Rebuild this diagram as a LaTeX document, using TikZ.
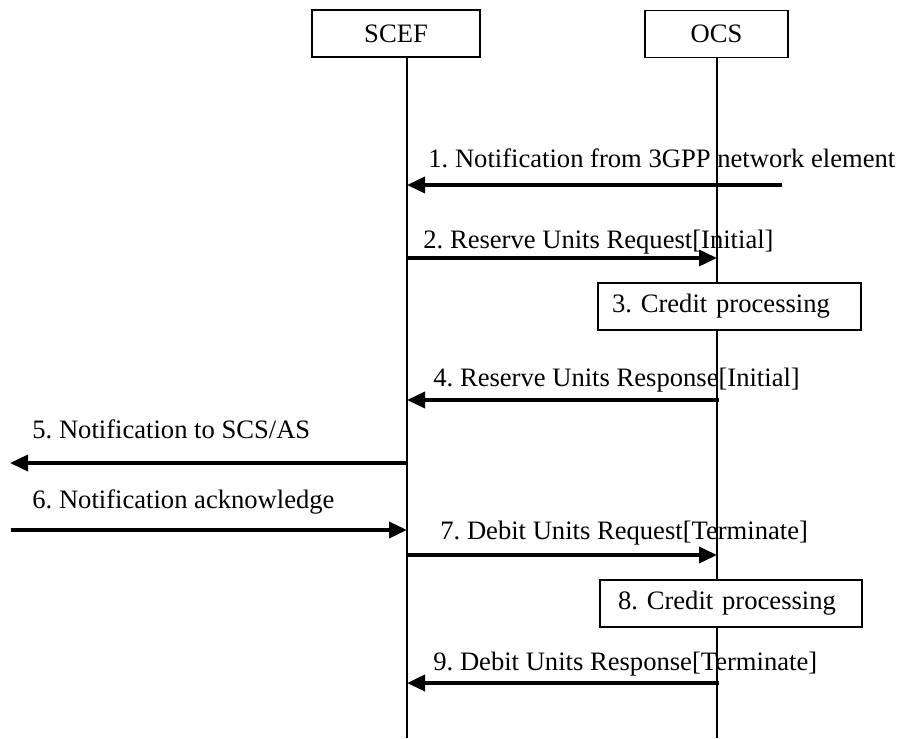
\documentclass[tikz,border=0pt]{standalone}
\usepackage{fontspec}
\setmainfont{Liberation Serif}
\usepackage{tikz}
\usetikzlibrary{arrows.meta}
\frenchspacing

\begin{document}
\begin{tikzpicture}[x=0.5pt,y=-0.5pt,
		every node/.style={font=\fontsize{13.3}{16}\selectfont},
		entity/.style={draw,line width=0.8pt,minimum height=23.5pt,inner sep=0pt},
		proc/.style={draw,fill=white,line width=0.8pt,minimum height=23.5pt,inner ysep=0pt,align=left},
		lab/.style={anchor=base west,inner sep=0pt},
		life/.style={line width=0.7pt},
		msg/.style={line width=1.8pt,-{Triangle[length=9pt,width=8pt]}}]
		\useasboundingbox (0,0) rectangle (898,738);

		\node[entity,minimum width=84pt](SCEF) at (396,33.5){SCEF};
		\node[entity,minimum width=71.5pt](OCS) at (716.5,34){OCS};

		\coordinate(ST) at (407,57);
		\coordinate(SB) at (407,738);
		\coordinate(OT) at (717,58);
		\coordinate(OB) at (717,738);

		\draw[life] (ST) -- (SB);
		\draw[life] (OT) -- (OB);

		\coordinate(E1) at (782,185);
		\coordinate(S1) at (407,185);
		\coordinate(S2) at (407,258);
		\coordinate(O2) at (717,258);
		\coordinate(O4) at (719,400);
		\coordinate(S4) at (407,400);
		\coordinate(S5) at (407,463);
		\coordinate(E5) at (10,463);
		\coordinate(E6) at (11,530);
		\coordinate(S6) at (407,530);
		\coordinate(S7) at (407,555);
		\coordinate(O7) at (717,555);
		\coordinate(O9) at (719,683);
		\coordinate(S9) at (407,683);

		\node[proc,inner xsep=7pt,text width=117.5pt](P3) at (729.5,306.5){3. Credit processing};
		\node[proc,inner xsep=9pt,text width=113pt](P8) at (731,603.5){8. Credit processing};

		\node[lab](L1) at (428,167){1. Notification from 3GPP network element};
		\node[lab](L2) at (423,248){2. Reserve Units Request[Initial]};
		\node[lab](L4) at (433,386){4. Reserve Units Response[Initial]};
		\node[lab](L5) at (32,438){5. Notification to SCS/AS};
		\node[lab](L6) at (32,508){6. Notification acknowledge};
		\node[lab](L7) at (440,539){7. Debit Units Request[Terminate]};
		\node[lab](L9) at (433,670){9. Debit Units Response[Terminate]};

		\draw[msg] (E1) -- (S1);
		\draw[msg] (S2) -- (O2);
		\draw[msg] (O4) -- (S4);
		\draw[msg] (S5) -- (E5);
		\draw[msg] (E6) -- (S6);
		\draw[msg] (S7) -- (O7);
		\draw[msg] (O9) -- (S9);
	\end{tikzpicture}
\end{document}
